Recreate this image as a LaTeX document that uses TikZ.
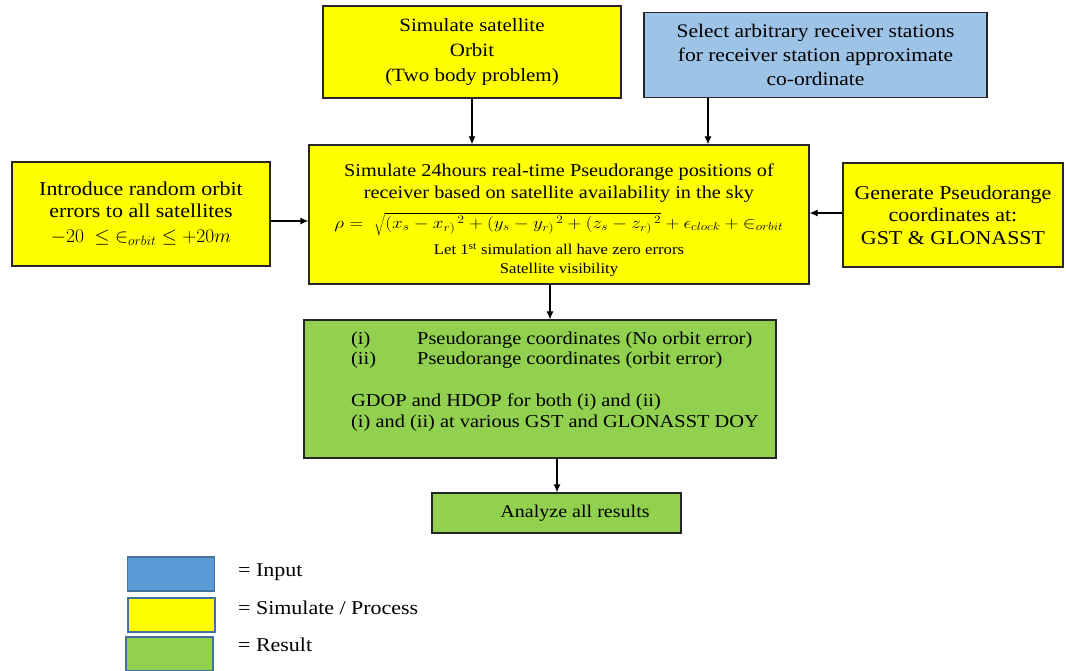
\documentclass[tikz,border=0pt]{standalone}
\usepackage{fontspec}
\setmainfont{Liberation Serif}[FakeStretch=1.12]
\usepackage{graphicx}
\usetikzlibrary{arrows.meta}
\definecolor{ybox}{HTML}{FFFF00}
\definecolor{bbox}{HTML}{9DC3E6}
\definecolor{lblue}{HTML}{5B9BD5}
\definecolor{gbox}{HTML}{92D050}
\definecolor{edge}{HTML}{262626}
\definecolor{lgedge}{HTML}{41719C}
\tikzset{
  box/.style={draw=edge, line width=1.3pt, rectangle, inner sep=0pt, align=center, text=black},
  yel/.style={box, fill=ybox},
  blu/.style={box, fill=bbox},
  grn/.style={box, fill=gbox},
  lgbox/.style={draw=lgedge, line width=1.4pt, rectangle, inner sep=0pt, minimum width=87pt, minimum height=34pt},
  lgtxt/.style={anchor=west, inner sep=0pt, font=\fontsize{19.6}{22}\selectfont},
  arr/.style={draw=black, line width=1.1pt, -{Latex[length=8pt,width=7pt]}}
}
\begin{document}
\begin{tikzpicture}[x=1pt,y=-1pt]
\useasboundingbox (0,0) rectangle (1066,671);
% boxes
\node[yel, minimum width=298pt, minimum height=92pt, font=\fontsize{18.75}{25}\selectfont] (orbit) at (472,52)
  {Simulate satellite\\ Orbit\\ (Two body problem)};
\node[blu, minimum width=343pt, minimum height=85pt, font=\fontsize{19.2}{24}\selectfont] (recv) at (815.5,55)
  {Select arbitrary receiver stations\\ for receiver station approximate\\ co-ordinate};
\node[yel, minimum width=500pt, minimum height=139pt, font=\fontsize{18.1}{22}\selectfont] (sim) at (559,214.5)
  {\raisebox{0pt}[24pt][0pt]{}Simulate 24hours real-time Pseudorange positions of\\
   receiver based on satellite availability in the sky\\[8pt]
   \scalebox{1}[0.85]{\resizebox{449pt}{!}{$\rho =\ \sqrt{(x_s - x_{r)}{}^{\,2} + (y_s - y_{r)}{}^{\,2} + (z_s - z_{r)}{}^{\,2}} + \epsilon_{clock} + {\in}_{orbit}$}}\\[4pt]
   \fontsize{14.9}{19}\selectfont Let 1\textsuperscript{st} simulation all have zero errors\\[-3pt]
   \fontsize{14.9}{19}\selectfont Satellite visibility};
\node[yel, minimum width=258pt, minimum height=104pt, font=\fontsize{19.6}{22}\selectfont] (err) at (141,214)
  {Introduce random orbit\\ errors to all satellites\\[3pt]
   \resizebox{180pt}{!}{$-20\ \leq {\in}_{orbit} \leq +20m$}};
\node[yel, minimum width=220pt, minimum height=104pt, font=\fontsize{19.6}{22.5}\selectfont] (gen) at (953,215)
  {Generate Pseudorange\\ coordinates at:\\ GST \& GLONASST};
\node[grn, minimum width=472pt, minimum height=138pt] (res) at (540,389) {};
\node[anchor=north west, inner sep=0pt, align=left, font=\fontsize{18.2}{21}\selectfont] (restxt) at (351,330)
  {\begin{tabular}{@{}p{66pt}@{}l@{}}(i) & Pseudorange coordinates (No orbit error)\\[-1pt]
   (ii) & Pseudorange coordinates (orbit error)\end{tabular}\\[21pt]
   GDOP and HDOP for both (i) and (ii)\\
   (i) and (ii) at various GST and GLONASST DOY};
\node[grn, minimum width=249pt, minimum height=40pt, font=\fontsize{17.9}{21}\selectfont] (ana) at (556.5,513)
  {\raisebox{4pt}{\hspace*{37pt}Analyze all results}};
% legend
\node[lgbox, fill=lblue] (lg1) at (171,574) {};
\node[lgbox, fill=ybox] (lg2) at (171.5,615) {};
\node[lgbox, fill=gbox] (lg3) at (169.5,654) {};
\node[lgtxt] (lt1) at (238,572) {= Input};
\node[lgtxt] (lt2) at (238,608) {= Simulate / Process};
\node[lgtxt] (lt3) at (238,645) {= Result};
% connectors
\coordinate (cx1) at (708,0);
\coordinate (cy1) at (0,221);
\coordinate (cx2) at (550,0);
\coordinate (cx3) at (557,0);
\draw[arr] (orbit.south) -- (orbit.south |- sim.north);
\draw[arr] (cx1 |- recv.south) -- (cx1 |- sim.north);
\draw[arr] (err.east |- cy1) -- (sim.west |- cy1);
\draw[arr] (gen.west |- 0,213) -- (sim.east |- 0,213);
\draw[arr] (cx2 |- sim.south) -- (cx2 |- res.north);
\draw[arr] (cx3 |- res.south) -- (cx3 |- ana.north);
\end{tikzpicture}
\end{document}
